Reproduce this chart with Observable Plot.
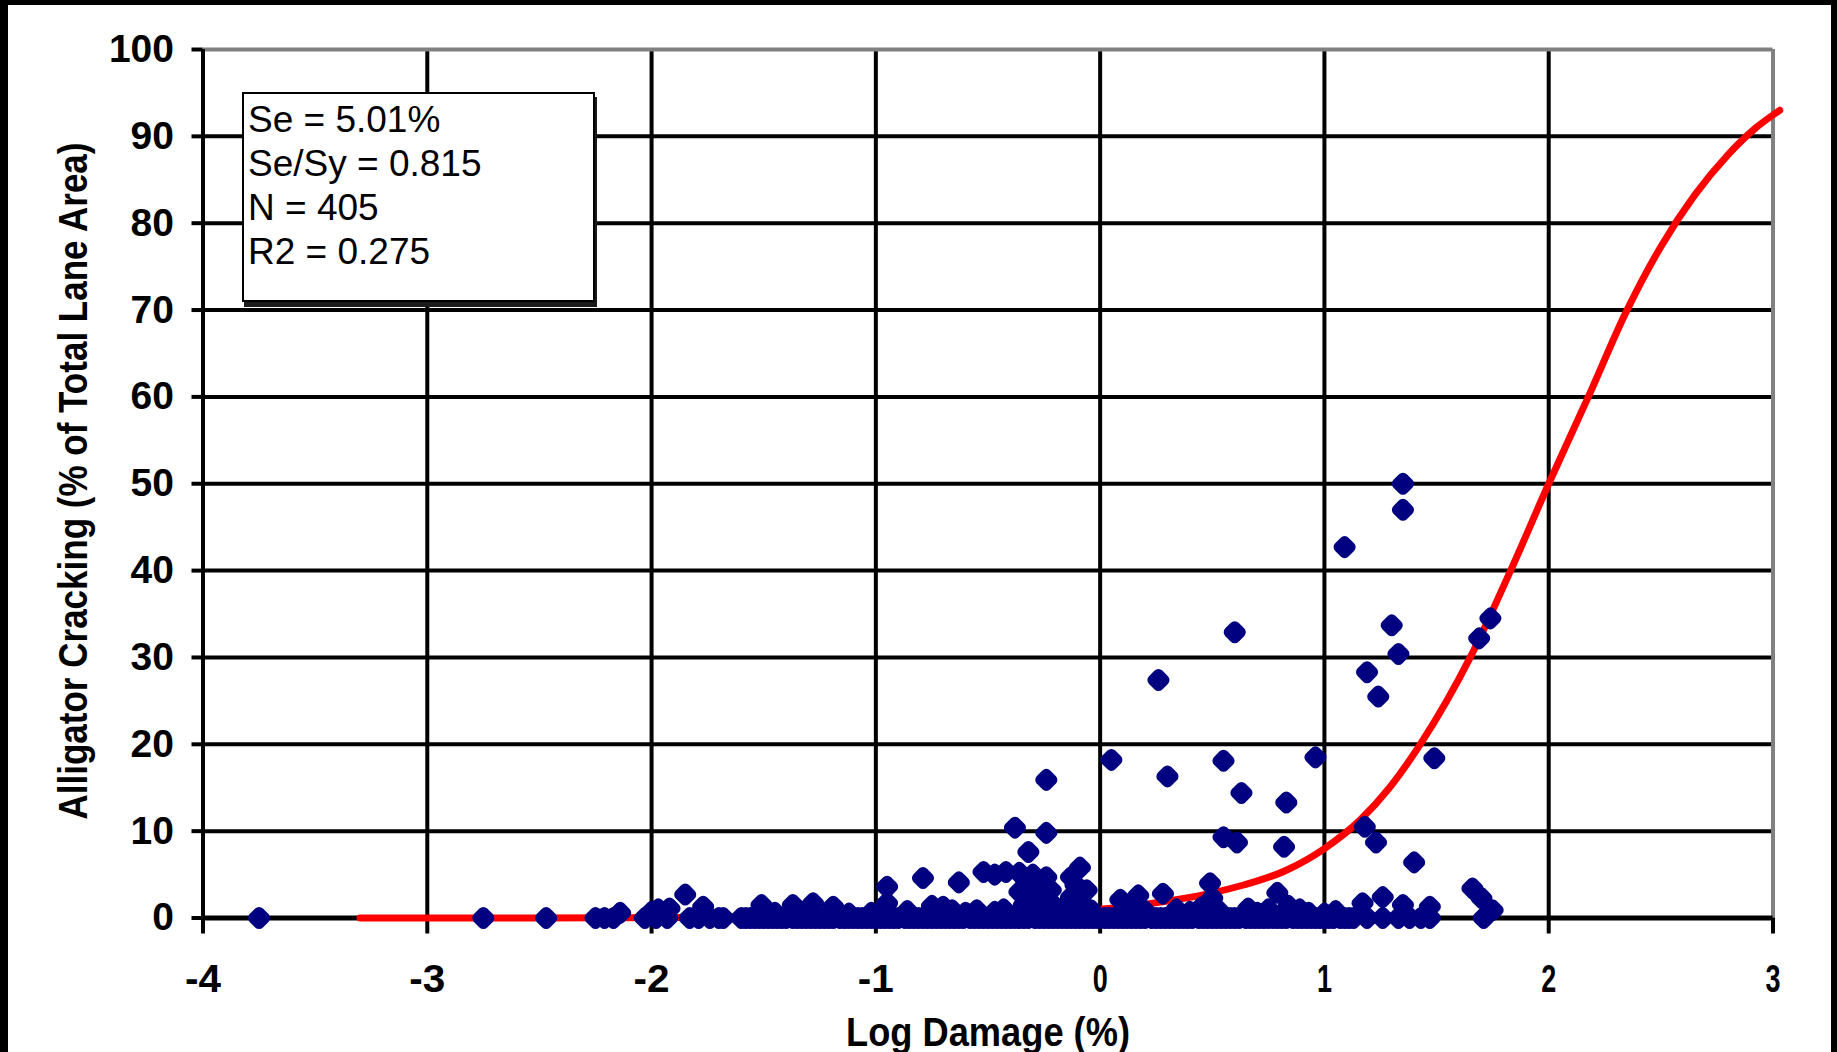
<!DOCTYPE html>
<html>
<head>
<meta charset="utf-8">
<script src="https://cdn.jsdelivr.net/npm/d3@7"></script>
<script src="https://cdn.jsdelivr.net/npm/@observablehq/plot@0.6"></script>
<style>
html, body { margin: 0; padding: 0; background: #000; width: 1837px; height: 1052px; overflow: hidden; }
#page { position: absolute; left: 8px; top: 5px; width: 1823px; height: 1047px; background: #fff; overflow: hidden; }
#chart { position: absolute; left: 0; top: 0; }
#stats { position: absolute; left: 234px; top: 87px; width: 353px; height: 210px; box-sizing: border-box;
  border: 2px solid #000; background: #fff; box-shadow: 2px 5px 0 #1a1a1a;
  font-family: "Liberation Sans", Arial, sans-serif; font-size: 37px; line-height: 44px; color: #000;
  padding: 4px 0 0 4px; white-space: nowrap; }
</style>
</head>
<body>
<div id="page">
  <div id="chart"></div>
  <div id="stats"></div>
</div>
<script>
// ---- data ----
const xTicks = [-4, -3, -2, -1, 0, 1, 2, 3];
const yTicks = [0, 10, 20, 30, 40, 50, 60, 70, 80, 90, 100];
const xLabel = "Log Damage (%)";
const yLabel = "Alligator Cracking (% of Total Lane Area)";
const statLines = ["Se = 5.01%", "Se/Sy = 0.815", "N = 405", "R2 = 0.275"];

// sections with 0% cracking (log damage values)
const zeroX = [
  -3.75, -2.75, -2.47, -2.25, -2.21, -2.17, -2.03, -1.98, -1.93, -1.83, -1.79, -1.74, -1.70, -1.68,
  -1.60, -1.56, -1.52, -1.48, -1.44, -1.40, -1.35, -1.31, -1.27, -1.23, -1.19, -1.14, -1.10, -1.06, -1.02,
  -0.98, -0.94, -0.90, -0.85, -0.81, -0.77, -0.73, -0.69, -0.65, -0.61, -0.56, -0.52, -0.48, -0.44, -0.40,
  -0.36, -0.32, -0.27, -0.23, -0.19, -0.15, -0.11, -0.07, -0.03,
  0.02, 0.06, 0.10, 0.14, 0.18, 0.23, 0.27, 0.31, 0.35, 0.39, 0.44, 0.48, 0.52, 0.56, 0.60, 0.65, 0.69,
  0.73, 0.77, 0.81, 0.86, 0.90, 0.94, 0.98, 1.02, 1.07, 1.11,
  -1.58, -1.54, -1.50, -1.46, -1.42, -1.37, -1.33, -1.29, -1.25, -1.21, -1.16, -1.12, -1.08, -1.04, -1.00,
  -0.96, -0.92, -0.87, -0.83, -0.79, -0.75, -0.71, -0.67, -0.63, -0.58, -0.54, -0.50, -0.46, -0.42, -0.38,
  -0.34, -0.29, -0.25, -0.21, -0.17, -0.13, -0.09, -0.05, -0.01,
  0.04, 0.08, 0.12, 0.16, 0.20, 0.25, 0.29, 0.33, 0.37, 0.41, 0.46, 0.50, 0.54, 0.58, 0.62, 0.67, 0.71,
  0.75, 0.79, 0.83, 0.88, 0.92, 0.96, 1.00, 1.04, 1.09,
  1.13, 1.19, 1.26, 1.33, 1.38, 1.43, 1.47, 1.71
];

// sections with measured cracking > 0
const crackX = [
  -2.14, -2.00, -1.97, -1.92, -1.85, -1.77,
  -1.51, -1.45, -1.37, -1.32, -1.28, -1.19, -1.12, -1.02,
  -0.95, -0.95, -0.86, -0.79, -0.75, -0.70, -0.66, -0.63, -0.60, -0.55, -0.52, -0.47, -0.47, -0.42, -0.43,
  -0.38, -0.36, -0.36, -0.34, -0.33, -0.32, -0.30, -0.30, -0.28, -0.27, -0.25, -0.24, -0.24, -0.24, -0.22, -0.21, -0.20,
  -0.17, -0.13, -0.13, -0.11, -0.09, -0.08, -0.06, -0.04,
  0.05, 0.09, 0.12, 0.17, 0.20, 0.26, 0.28, 0.30, 0.34, 0.40, 0.45, 0.49, 0.50, 0.53, 0.55, 0.55,
  0.60, 0.61, 0.63, 0.66, 0.70, 0.75, 0.79, 0.82, 0.83, 0.84, 0.89, 0.93, 0.96, 1.00, 1.05,
  1.09, 1.17, 1.18, 1.19, 1.23, 1.24, 1.26, 1.30, 1.33, 1.35, 1.35, 1.35, 1.40, 1.47, 1.49, 1.66, 1.69, 1.70, 1.74, 1.75
];
const crackY = [
  0.6, 0.7, 1.0, 1.1, 2.7, 1.3,
  1.5, 0.6, 1.5, 0.7, 1.7, 1.3, 0.5, 0.6,
  1.7, 3.6, 0.8, 4.6, 1.4, 1.3, 0.9, 4.1, 0.6, 0.9, 5.3, 5.0, 0.7, 5.3, 1.0,
  10.4, 5.2, 3.0, 1.5, 4.3, 7.6, 2.2, 5.0, 3.5, 1.2, 2.6, 15.9, 9.8, 4.7, 3.2, 1.5, 0.8,
  1.1, 4.7, 2.4, 3.8, 5.8, 1.5, 3.2, 0.9,
  18.2, 2.1, 1.0, 2.6, 0.8, 27.4, 2.8, 16.3, 1.0, 0.7, 1.2, 4.0, 2.3, 0.8, 18.1, 9.3,
  32.9, 8.7, 14.4, 1.1, 0.6, 1.0, 2.9, 8.2, 13.3, 1.4, 1.0, 0.6, 18.5, 0.5, 0.8,
  42.7, 1.7, 10.5, 28.3, 8.7, 25.5, 2.4, 33.7, 30.4, 50.0, 47.0, 1.5, 6.4, 1.3, 18.4, 3.4, 32.2, 2.3, 34.5, 0.9
];

// fitted transfer function
const fitX = [-3.30, -2.50, -1.50, -0.50, 0.00, 0.36, 0.50, 0.64, 0.83, 1.00, 1.16, 1.29, 1.43, 1.65, 1.83, 2.00, 2.18, 2.34, 2.50, 2.65, 2.80, 2.92, 3.03];
const fitY = [0.0, 0.0, 0.1, 0.4, 1.0, 2.2, 2.9, 3.8, 5.5, 8.0, 11.3, 15.0, 20.1, 30.0, 40.0, 50.0, 60.2, 69.5, 77.3, 83.2, 87.9, 90.9, 93.0];

// ---- build ----
const points = zeroX.map(x => ({x, y: 0})).concat(crackX.map((x, i) => ({x, y: crackY[i]})));
const fit = fitX.map((x, i) => ({x, y: fitY[i]}));

const chart = Plot.plot({
  width: 1823, height: 1047,
  marginLeft: 194.5, marginRight: 58.5, marginTop: 44, marginBottom: 134.5,
  x: {domain: [-4, 3]},
  y: {domain: [0, 100]},
  style: 'font-family: "Liberation Sans", Arial, sans-serif; font-size: 39px; font-weight: bold; color: #000; background: #fff; overflow: visible;',
  marks: [
    Plot.ruleY(yTicks.filter(d => d > 0 && d < 100), {stroke: "#000", strokeWidth: 4}),
    Plot.ruleX(xTicks.filter(d => d > -4 && d < 3), {stroke: "#000", strokeWidth: 4}),
    Plot.ruleY([100], {stroke: "#808080", strokeWidth: 4}),
    Plot.ruleX([3], {stroke: "#808080", strokeWidth: 4}),
    Plot.axisY({ticks: yTicks, tickSize: 11, tickPadding: 18, stroke: "#000", strokeWidth: 4, tickFormat: d => String(d), label: null}),
    Plot.axisX({ticks: xTicks, tickSize: 16, tickPadding: 30, stroke: "#000", strokeWidth: 4, tickFormat: d => String(d), label: null}),
    Plot.ruleX([-4], {stroke: "#000", strokeWidth: 4}),
    Plot.ruleY([0], {stroke: "#000", strokeWidth: 5}),
    Plot.line(fit, {x: "x", y: "y", stroke: "#ff0000", strokeWidth: 7, curve: "monotone-x"}),
    Plot.dot(points, {x: "x", y: "y", symbol: "diamond2", r: 5, fill: "#000080", stroke: "#000080", strokeWidth: 11, strokeLinejoin: "round"})
  ]
});

document.getElementById("chart").appendChild(chart);

const svg = d3.select(chart);
svg.selectAll('[aria-label="x-axis tick label"] text').each(function () {
  const t = this.textContent;
  this.setAttribute("textLength", t.startsWith("-") ? 36 : 15);
  this.setAttribute("lengthAdjust", "spacingAndGlyphs");
});
svg.append("text")
  .attr("transform", "translate(65,476) rotate(-90)")
  .attr("text-anchor", "middle")
  .attr("dy", "0.36em")
  .attr("font-size", 40)
  .attr("font-weight", "bold")
  .attr("fill", "#000")
  .attr("textLength", 677)
  .attr("lengthAdjust", "spacingAndGlyphs")
  .text(yLabel);
svg.append("text")
  .attr("x", 980).attr("y", 1041)
  .attr("text-anchor", "middle")
  .attr("font-size", 40)
  .attr("font-weight", "bold")
  .attr("fill", "#000")
  .attr("textLength", 284)
  .attr("lengthAdjust", "spacingAndGlyphs")
  .text(xLabel);

const stats = document.getElementById("stats");
statLines.forEach(s => { const d = document.createElement("div"); d.textContent = s; stats.appendChild(d); });
</script>
</body>
</html>
